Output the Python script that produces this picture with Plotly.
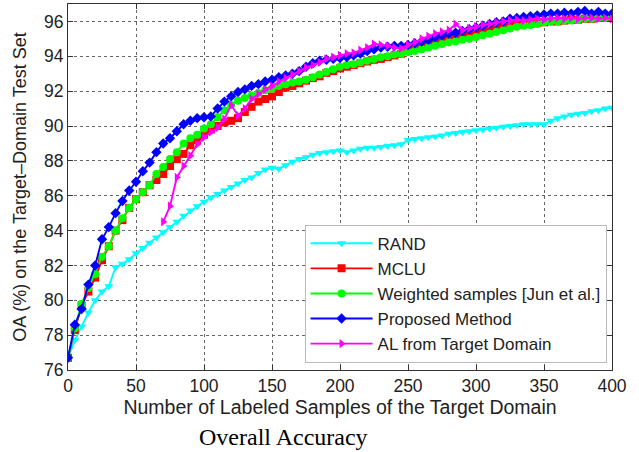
import plotly.graph_objects as go

x_all = list(range(0, 405, 5))
x_al = list(range(70, 405, 5))

rand_vals = [76.7, 77.7, 78.5, 79.3, 80.0, 80.5, 80.8, 81.9, 82.1, 82.35,
             82.7, 83.0, 83.3, 83.6, 83.9, 84.2, 84.5, 84.85, 85.15, 85.4,
             85.65, 85.9, 86.1, 86.3, 86.5, 86.7, 86.9, 87.05, 87.3, 87.5,
             87.6, 87.55, 87.75, 87.95, 88.1, 88.2, 88.35, 88.45, 88.5, 88.55,
             88.6, 88.5, 88.6, 88.7, 88.75, 88.75, 88.8, 88.85, 88.9, 88.95,
             89.2, 89.25, 89.3, 89.35, 89.4, 89.45, 89.55, 89.6, 89.65, 89.7,
             89.75, 89.8, 89.85, 89.9, 89.95, 90.0, 90.05, 90.1, 90.1, 90.1,
             90.1, 90.3, 90.45, 90.55, 90.65, 90.7, 90.75, 90.85, 90.9, 91.0,
             91.05]

mclu_vals = [76.7, 78.3, 79.7, 80.5, 81.3, 82.3, 83.1, 84.0, 84.6, 85.3,
             85.8, 86.2, 86.6, 86.9, 87.25, 87.7, 88.1, 88.4, 88.9, 89.2,
             89.5, 89.8, 90.0, 90.2, 90.3, 90.45, 90.8, 91.1, 91.4, 91.55,
             91.7, 91.95, 92.2, 92.3, 92.45, 92.6, 92.75, 92.85, 93.05, 93.15,
             93.3, 93.4, 93.5, 93.6, 93.7, 93.8, 93.85, 93.95, 94.05, 94.15,
             94.3, 94.5, 94.6, 94.7, 94.8, 94.9, 95.0, 95.1, 95.2, 95.3,
             95.4, 95.5, 95.6, 95.7, 95.75, 95.8, 95.8, 95.85, 95.85, 95.9,
             95.95, 96.0, 96.0, 96.05, 96.1, 96.1, 96.15, 96.15, 96.2, 96.2,
             96.25]

weighted_vals = [76.7, 78.4, 79.8, 80.7, 81.5, 82.5, 83.1, 84.0, 84.7, 85.3,
                 85.8, 86.2, 86.6, 87.25, 87.65, 88.1, 88.5, 89.0, 89.3, 89.5,
                 89.85, 90.1, 90.5, 90.9, 91.2, 91.45, 91.6, 91.75, 91.9, 92.05,
                 92.15, 92.3, 92.4, 92.5, 92.55, 92.65, 92.8, 92.95, 93.1, 93.25,
                 93.4, 93.5, 93.55, 93.65, 93.75, 93.85, 93.95, 94.0, 94.1, 94.15,
                 94.25, 94.3, 94.4, 94.5, 94.6, 94.7, 94.8, 94.85, 94.95, 95.0,
                 95.1, 95.2, 95.3, 95.4, 95.5, 95.6, 95.7, 95.75, 95.8, 95.85,
                 95.95, 96.0, 96.0, 96.05, 96.05, 96.1, 96.15, 96.15, 96.2, 96.2,
                 96.25]

proposed_vals = [76.7, 78.6, 79.5, 80.9, 82.0, 83.5, 84.2, 85.0, 85.7, 86.3,
                 86.8, 87.4, 87.9, 88.5, 89.0, 89.3, 89.7, 90.1, 90.3, 90.45,
                 90.5, 90.55, 91.0, 91.4, 91.7, 91.95, 92.1, 92.3, 92.4, 92.55,
                 92.65, 92.8, 92.9, 93.0, 93.15, 93.4, 93.6, 93.75, 93.8, 93.85,
                 93.9, 93.95, 94.05, 94.15, 94.3, 94.4, 94.5, 94.55, 94.6, 94.6,
                 94.65, 94.75, 94.85, 94.95, 95.1, 95.2, 95.3, 95.35, 95.45, 95.55,
                 95.65, 95.75, 95.85, 95.95, 96.0, 96.15, 96.2, 96.25, 96.3, 96.35,
                 96.4, 96.45, 96.45, 96.5, 96.45, 96.55, 96.6, 96.45, 96.55, 96.45,
                 96.45]

al_vals = [84.5, 85.4, 87.05, 87.7, 88.3, 88.95, 89.35, 89.65, 89.9, 90.4,
           91.2, 90.6, 91.0, 91.55, 91.85, 92.1, 92.3, 92.55, 92.75, 92.95,
           93.15, 93.35, 93.5, 93.65, 93.85, 93.95, 94.05, 94.15, 94.2, 94.35,
           94.5, 94.7, 94.65, 94.6, 94.5, 94.45, 94.65, 94.8, 95.0, 95.15,
           95.3, 95.4, 95.5, 95.85, 95.5, 95.6, 95.7, 95.8, 95.85, 95.95,
           96.0, 96.05, 96.1, 96.05, 96.1, 96.15, 96.1, 96.15, 96.2, 96.15,
           96.2, 96.15, 96.2, 96.2, 96.15, 96.2, 96.15]

x_ticks = [0, 50, 100, 150, 200, 250, 300, 350, 400]
y_ticks = [76, 78, 80, 82, 84, 86, 88, 90, 92, 94, 96]

series = [
    ("RAND", x_all, rand_vals, "#00FFFF", "triangle-down"),
    ("MCLU", x_all, mclu_vals, "#FF0000", "square"),
    ("Weighted samples [Jun et al.]", x_all, weighted_vals, "#00FF00", "circle"),
    ("Proposed Method", x_all, proposed_vals, "#0000FF", "diamond"),
    ("AL from Target Domain", x_al, al_vals, "#FF00FF", "triangle-right"),
]

fig = go.Figure()
for name, xs, ys, color, sym in series:
    fig.add_trace(go.Scatter(
        x=xs, y=ys, name=name, mode="lines+markers",
        line=dict(color=color, width=1.9),
        marker=dict(symbol=sym, size=8, color=color),
    ))

font_family = "Liberation Sans, Arial, sans-serif"
axis_common = dict(
    showline=True, linecolor="#333", linewidth=1.2, mirror="ticks",
    ticks="inside", ticklen=5, tickcolor="#333",
    showgrid=True, gridcolor="#666", griddash="dot", gridwidth=1,
    zeroline=False, tickfont=dict(size=17.5, color="#222", family=font_family),
)

fig.update_layout(
    width=639, height=452,
    margin=dict(l=68, r=27, t=4, b=82),
    paper_bgcolor="white", plot_bgcolor="white",
    font=dict(family=font_family, color="#222"),
    xaxis=dict(range=[0, 400], tickvals=x_ticks,
               title=dict(text="Number of Labeled Samples of the Target Domain",
                          font=dict(size=19.5), standoff=2),
               **axis_common),
    yaxis=dict(range=[76, 97], tickvals=y_ticks,
               title=dict(text="OA (%) on the Target\u2013Domain Test Set",
                          font=dict(size=18), standoff=12),
               **axis_common),
    legend=dict(x=0.99, y=0.02, xanchor="right", yanchor="bottom",
                bgcolor="white", bordercolor="#bbb", borderwidth=1,
                font=dict(size=17, family=font_family, color="#222"),
                itemwidth=62, tracegroupgap=0),
    showlegend=True,
)

fig.add_annotation(text="Overall Accuracy", xref="paper", yref="paper",
                   x=(283 - 68) / 544, y=-67 / 366, xanchor="center", yanchor="middle",
                   showarrow=False,
                   font=dict(family="Liberation Serif, Times New Roman, serif",
                             size=24, color="black"))

fig.write_html("out.html", config={"displayModeBar": False},
               post_script="document.body.style.margin='0px';")
